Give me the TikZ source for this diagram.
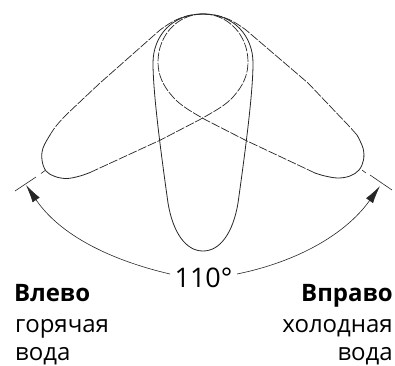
\documentclass[tikz,border=0pt]{standalone}
\usepackage{fontspec}
\setmainfont{Open Sans}
\usetikzlibrary{arrows.meta}
\tikzset{
  solidline/.style={line width=0.8pt,black!85},
  dashline/.style={line width=0.7pt,black!85,dash pattern=on 9pt off 1.6pt},
  thinline/.style={line width=0.6pt,black!85},
  arcline/.style={line width=0.6pt,black!85,-{Latex[length=18pt,width=8.5pt]}},
  lbl/.style={font=\fontsize{24}{26}\selectfont,inner sep=0pt},
}
\begin{document}
\begin{tikzpicture}[x=1pt,y=-1pt]
\useasboundingbox (0,0) rectangle (395,365);
% centre blade
\draw[solidline] (203,14) .. controls (172,14) and (153,36) .. (153,63)
  .. controls (153,95) and (162,160) .. (168,203)
  .. controls (173,233) and (186,251) .. (203,251)
  .. controls (220,251) and (233,233) .. (238,203)
  .. controls (244,160) and (253,95) .. (253,63)
  .. controls (253,36) and (234,14) .. (203,14);
% left blade
\draw[dashline] (203,14) .. controls (184,14) and (172,21) .. (160,30)
  -- (100,83) -- (67,114) .. controls (60,121) and (54,128) .. (50,135);
\draw[solidline] plot[smooth,tension=0.6] coordinates {(50,135) (43,148) (42,160) (46,171) (55,176.5) (67,178.5) (80,176) (90,172.5)};
\draw[dashline] (90,172.5) -- (160.5,140) -- (200,119.5)
  .. controls (215,111) and (226,105) .. (233,97)
  .. controls (243,86) and (248,75) .. (248,62)
  .. controls (248,35) and (228,14) .. (203,14);
% right blade
\draw[dashline] (203,14) .. controls (222,14) and (234,21) .. (246,30)
  -- (308,83) -- (348,125) .. controls (352,129) and (354,132) .. (357,135);
\draw[solidline] plot[smooth,tension=0.6] coordinates {(357,135) (363,148) (363.5,160) (359,170) (350,176) (338,178) (325,176) (315,173)};
\draw[dashline] (315,173) -- (245,140) -- (205,119.5)
  .. controls (190,111) and (180,105) .. (173,97)
  .. controls (163,86) and (158,75) .. (158,62)
  .. controls (158,35) and (178,14) .. (203,14);
% ticks
\coordinate (lt1) at (15,191); \coordinate (lt2) at (36,177);
\coordinate (lt3) at (41,173.5); \coordinate (lt4) at (45,170.5);
\coordinate (rt1) at (392,190); \coordinate (rt2) at (370,175);
\coordinate (rt3) at (362,170); \coordinate (rt4) at (366,173);
\draw[thinline] (lt1) -- (lt2) (lt3) -- (lt4) (rt1) -- (rt2) (rt3) -- (rt4);
% labels
\node[font=\fontsize{27}{30}\selectfont,inner sep=0pt,anchor=base] (ang) at (203.5,287) {110°};
\node[lbl,anchor=base west] (l1) at (14,301) {\textbf{Влево}};
\node[lbl,anchor=base west] (l2) at (15,332) {горячая};
\node[lbl,anchor=base west] (l3) at (15,360) {вода};
\node[lbl,anchor=base east] (r1) at (393,301) {\textbf{Вправо}};
\node[lbl,anchor=base east] (r2) at (393,332) {холодная};
\node[lbl,anchor=base east] (r3) at (393,360) {вода};
% arcs
\coordinate (al) at (26,185); \coordinate (ar) at (380,186);
\draw[arcline] (170,274) .. controls (110,260) and (60,235) .. (al);
\draw[arcline] (237,274) .. controls (296,262) and (345,235) .. (ar);
\end{tikzpicture}
\end{document}
